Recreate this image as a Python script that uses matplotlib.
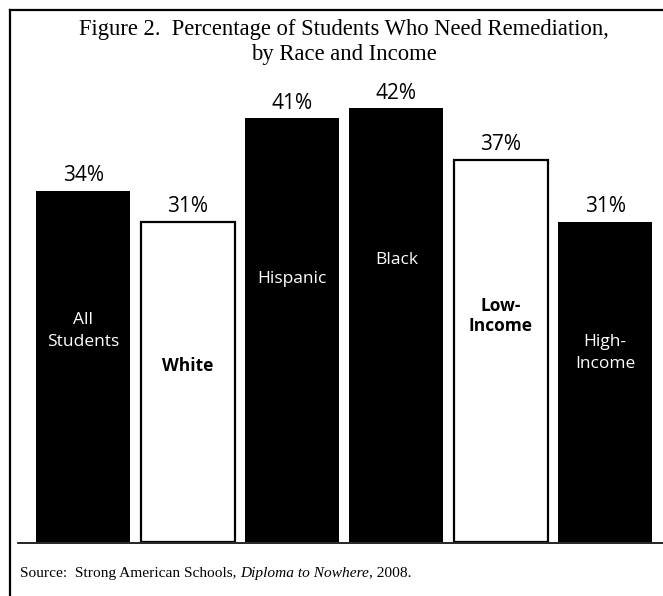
import matplotlib
matplotlib.use("Agg")
import matplotlib.pyplot as plt
from matplotlib.lines import Line2D

# data
groups = ["All\nStudents", "White", "Hispanic", "Black", "Low-\nIncome", "High-\nIncome"]
pct = [34, 31, 41, 42, 37, 31]
fills = ["black", "white", "black", "black", "white", "black"]
label_pos = [0.60, 0.55, 0.62, 0.65, 0.59, 0.59]  # fraction of bar height for inside label

title = "Figure 2.  Percentage of Students Who Need Remediation,\nby Race and Income"
source_parts = [("Source:  Strong American Schools, ", "normal"),
                ("Diploma to Nowhere", "italic"),
                (", 2008.", "normal")]

W, H = 663, 596
fig = plt.figure(figsize=(W / 100, H / 100), dpi=100)
fig.patch.set_facecolor("white")

ax = fig.add_axes([31 / W, (H - 542) / H, 626.5 / W, 465 / H])
ax.set_xlim(-0.5, len(pct) - 0.5)
ax.set_ylim(0, 45)
ax.axis("off")

sans = "Open Sans"
serif = "Liberation Serif"

for i, (g, v, c, lp) in enumerate(zip(groups, pct, fills, label_pos)):
    ax.bar(i, v, width=0.9, color=c, edgecolor="black",
           linewidth=1.6 if c == "white" else 0)
    ax.text(i, v + 1.45, f"{v}%", ha="center", va="center",
            fontsize=15, family=sans, color="black")
    on_white = c == "white"
    ax.text(i, v * lp, g, ha="center", va="center", fontsize=12.5,
            family=sans, color="black" if on_white else "white",
            fontweight="bold" if on_white else "medium",
            linespacing=1.15 if on_white else 1.45)

# frame lines and baseline
fig.add_artist(Line2D([10 / W, 10 / W], [0, 1 - 10 / H], color="black", lw=1.6))
fig.add_artist(Line2D([10 / W, 1], [1 - 10 / H, 1 - 10 / H], color="black", lw=1.6))
fig.add_artist(Line2D([18 / W, 1], [(H - 543) / H, (H - 543) / H], color="black", lw=1.2))

fig.text(344 / W, 1 - 42 / H, title, ha="center", va="center", fontsize=16.3,
         family=serif, linespacing=1.2)

# source line with italic book title
fig.canvas.draw()
renderer = fig.canvas.get_renderer()
x = 20
for s, style in source_parts:
    t = fig.text(x / W, 1 - 573 / H, s, ha="left", va="center", fontsize=11.1,
                 family=serif, style=style)
    x += t.get_window_extent(renderer).width

fig.savefig("out.png", dpi=100)
